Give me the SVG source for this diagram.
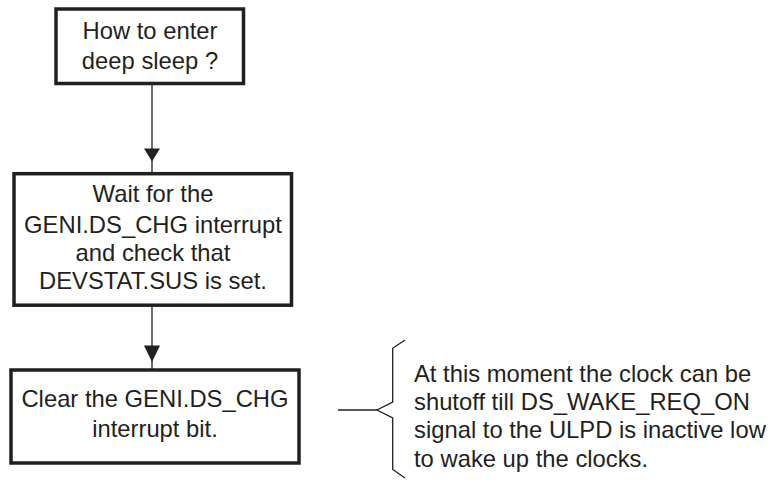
<svg xmlns="http://www.w3.org/2000/svg" width="770" height="481" viewBox="0 0 770 481">
<defs>
<style>
.box{fill:#fff;stroke:#231f20;stroke-width:3.5}
.ln{fill:none;stroke:#231f20;stroke-width:1.3}
.ah{fill:#231f20}
text{font-family:"Liberation Sans",Arial,sans-serif;font-size:23.8px;fill:#231f20}
.c{text-anchor:middle}
</style>
</defs>
<rect width="770" height="481" fill="#fff"/>
<g id="connectors">
<line class="ln" x1="152" y1="85" x2="152" y2="172"/>
<polygon class="ah" points="144,148.5 160,148.5 152,161.5"/>
<line class="ln" x1="152" y1="307" x2="152" y2="369"/>
<polygon class="ah" points="144,345.5 160,345.5 152,362"/>
<line class="ln" x1="338" y1="410" x2="377" y2="410"/>
<path class="ln" d="M405,340 L392.7,348.3 L392.7,402 L377,410 L392.7,418 L392.7,469.5 L405,478"/>
</g>
<g id="n1">
<rect class="box" x="56" y="9" width="187.5" height="74.5"/>
<text class="c" x="150" y="39.3">How to enter</text>
<text class="c" x="150" y="69">deep sleep ?</text>
</g>
<g id="n2">
<rect class="box" x="14" y="173.7" width="277.5" height="131.5"/>
<text class="c" x="153" y="201.7">Wait for the</text>
<text class="c" x="153" y="232.5">GENI.DS_CHG interrupt</text>
<text class="c" x="153" y="260.7">and check that</text>
<text class="c" x="153" y="289.3">DEVSTAT.SUS is set.</text>
</g>
<g id="n3">
<rect class="box" x="11" y="370" width="288" height="93"/>
<text class="c" x="155" y="407">Clear the GENI.DS_CHG</text>
<text class="c" x="155" y="436.7">interrupt bit.</text>
</g>
<g id="note">
<text x="414" y="381.7">At this moment the clock can be</text>
<text x="414" y="410">shutoff till DS_WAKE_REQ_ON</text>
<text x="414" y="438.3">signal to the ULPD is inactive low</text>
<text x="414" y="466.7">to wake up the clocks.</text>
</g>
</svg>
